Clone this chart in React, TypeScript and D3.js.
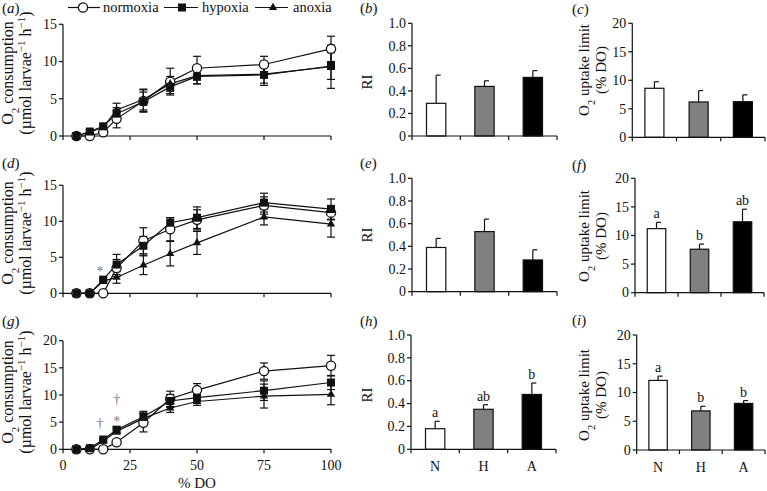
import React from 'react';
import * as d3 from 'd3';

// ---------- data ----------
const DO = [5, 10, 15, 20, 30, 40, 50, 75, 100];
const xTicks = [0, 25, 50, 75, 100];

// panel (a)
const aNorm = [0, 0, 0.5, 2.3, 4.7, 7.3, 9.1, 9.6, 11.7];
const aNormErr = [0, 0, 0.3, 1.2, 1.5, 1.8, 1.6, 1.1, 1.7];
const aHyp = [0, 0.6, 1.3, 3.0, 4.6, 6.6, 8.0, 8.2, 9.4];
const aHypErr = [0, 0.2, 0.3, 0.8, 1.3, 0.9, 1.0, 1.4, 1.8];
const aAno = [0, 0.5, 1.2, 3.5, 4.9, 7.0, 8.1, 8.3, 9.3];
const aAnoErr = [0, 0.2, 0.3, 0.9, 1.4, 1.0, 1.1, 1.2, 2.9];

// panel (d)
const dNorm = [0, 0, 0, 3.5, 7.3, 8.9, 10.2, 12.2, 11.2];
const dNormErr = [0, 0, 0, 1.2, 1.8, 1.6, 1.4, 1.2, 1.0];
const dHyp = [0, 0, 1.9, 4.0, 6.6, 9.8, 10.5, 12.6, 11.7];
const dHypErr = [0, 0, 0.3, 1.4, 1.3, 0.7, 1.5, 1.3, 1.4];
const dAno = [0, 0, 1.7, 2.2, 3.9, 5.5, 7.0, 10.6, 9.6];
const dAnoErr = [0, 0, 0.3, 0.8, 1.3, 1.7, 1.6, 1.1, 1.8];

// panel (g)
const gNorm = [0, 0, 0, 1.3, 4.9, 9.3, 10.9, 14.4, 15.4];
const gNormErr = [0, 0, 0, 0.3, 1.7, 1.4, 1.2, 1.5, 1.9];
const gHyp = [0, 0.2, 1.8, 3.6, 6.0, 8.9, 9.5, 10.8, 12.3];
const gHypErr = [0, 0.1, 0.3, 0.6, 1.0, 1.2, 1.0, 1.8, 1.3];
const gAno = [0, 0, 1.5, 3.3, 5.7, 7.6, 8.8, 9.8, 10.1];
const gAnoErr = [0, 0, 0.3, 0.5, 1.0, 0.8, 0.7, 2.2, 1.9];

// bar panels
const groups = ['N', 'H', 'A'];
const barFills = ['#ffffff', '#808080', '#000000'];
const riB = [0.29, 0.44, 0.52];
const riBErr = [0.25, 0.05, 0.06];
const riE = [0.39, 0.53, 0.28];
const riEErr = [0.08, 0.11, 0.09];
const riH = [0.18, 0.35, 0.48];
const riHErr = [0.065, 0.04, 0.1];
const riHLetters = ['a', 'ab', 'b'];
const limC = [8.6, 6.2, 6.25];
const limCErr = [1.15, 2.0, 1.2];
const limF = [11.2, 7.6, 12.4];
const limFErr = [1.1, 0.9, 2.2];
const limFLetters = ['a', 'b', 'ab'];
const limI = [12.1, 6.8, 8.1];
const limIErr = [0.75, 0.8, 0.5];
const limILetters = ['a', 'b', 'b'];

const riTicks = [0, 0.2, 0.4, 0.6, 0.8, 1.0];
const limTicks = [0, 5, 10, 15, 20];

const FONT = '"Liberation Serif", "Times New Roman", serif';
const INK = '#111';
const GRAY = '#7a7a7a';

// ---------- helpers ----------
function PanelLabel({ x, y, letter }: { x: number; y: number; letter: string }) {
  return (
    <text x={x} y={y} fontSize={15} fontFamily={FONT} fill={INK}>
      (<tspan fontStyle="italic">{letter}</tspan>)
    </text>
  );
}

function Marker({ kind, x, y }: { kind: string; x: number; y: number }) {
  if (kind === 'circle')
    return <circle cx={x} cy={y} r={4.6} fill="#fff" stroke={INK} strokeWidth={1.3} />;
  if (kind === 'square')
    return <rect x={x - 4} y={y - 4} width={8} height={8} fill={INK} />;
  const tri = d3.symbol().type(d3.symbolTriangle).size(30)();
  return <path d={tri || ''} transform={`translate(${x},${y})`} fill={INK} />;
}

function YAxis({ x, y, ticks, fmt }: { x: number; y: d3.ScaleLinear<number, number>; ticks: number[]; fmt: (v: number) => string }) {
  const [r0, r1] = y.range();
  return (
    <g>
      <line x1={x} x2={x} y1={r0} y2={r1} stroke={INK} strokeWidth={1.2} />
      {ticks.map((t) => (
        <g key={t}>
          <line x1={x - 4} x2={x} y1={y(t)} y2={y(t)} stroke={INK} strokeWidth={1.2} />
          <text x={x - 6} y={y(t)} dy="0.34em" textAnchor="end" fontSize={14} fontFamily={FONT} fill={INK}>
            {fmt(t)}
          </text>
        </g>
      ))}
    </g>
  );
}

type Series = { vals: number[]; errs: number[]; kind: string };

function LinePanel({ yScale, ticks, series, showXLabels, y0 }: { yScale: d3.ScaleLinear<number, number>; ticks: number[]; series: Series[]; showXLabels: boolean; y0: number }) {
  const x = d3.scaleLinear().domain([0, 100]).range([63, 331]);
  const line = d3
    .line<number>()
    .x((_, i) => x(DO[i]))
    .y((v) => yScale(v));
  return (
    <g>
      <YAxis x={63} y={yScale} ticks={ticks} fmt={(v) => String(v)} />
      <line x1={63} x2={331} y1={y0} y2={y0} stroke={INK} strokeWidth={1.2} />
      {xTicks.map((t) => (
        <g key={t}>
          <line x1={x(t)} x2={x(t)} y1={y0} y2={y0 + 4} stroke={INK} strokeWidth={1.2} />
          {showXLabels && (
            <text x={x(t)} y={y0 + 21} textAnchor="middle" fontSize={14} fontFamily={FONT} fill={INK}>
              {t}
            </text>
          )}
        </g>
      ))}
      {series.map((s, si) => (
        <g key={'l' + si}>
          <path d={line(s.vals) || ''} fill="none" stroke={INK} strokeWidth={1.2} />
          {s.vals.map((v, i) =>
            s.errs[i] > 0 ? (
              <g key={i} stroke={INK} strokeWidth={1.2}>
                <line x1={x(DO[i])} x2={x(DO[i])} y1={yScale(v - s.errs[i])} y2={yScale(v + s.errs[i])} />
                <line x1={x(DO[i]) - 4} x2={x(DO[i]) + 4} y1={yScale(v - s.errs[i])} y2={yScale(v - s.errs[i])} />
                <line x1={x(DO[i]) - 4} x2={x(DO[i]) + 4} y1={yScale(v + s.errs[i])} y2={yScale(v + s.errs[i])} />
              </g>
            ) : null
          )}
        </g>
      ))}
      {series.map((s, si) => (
        <g key={'m' + si}>
          {s.vals.map((v, i) => (
            <Marker key={i} kind={s.kind} x={x(DO[i])} y={yScale(v)} />
          ))}
        </g>
      ))}
    </g>
  );
}

function BarPanel({ x0, x1, yScale, ticks, fmt, vals, errs, letters, showXLabels, pad }: { x0: number; x1: number; yScale: d3.ScaleLinear<number, number>; ticks: number[]; fmt: (v: number) => string; vals: number[]; errs: number[]; letters?: string[]; showXLabels: boolean; pad: number }) {
  const xb = d3.scaleBand<string>().domain(groups).range([x0, x1]).paddingInner(pad).paddingOuter(pad / 2);
  const step = xb.step();
  const base = yScale(0);
  return (
    <g>
      {vals.map((v, i) => {
        const g = groups[i];
        const bx = xb(g) || 0;
        const cx = bx + xb.bandwidth() / 2;
        const top = yScale(v + errs[i]);
        return (
          <g key={g}>
            <line x1={cx} x2={cx} y1={yScale(v)} y2={top} stroke={INK} strokeWidth={1.2} />
            <line x1={cx} x2={cx + 4.5} y1={top} y2={top} stroke={INK} strokeWidth={1.2} />
            <rect x={bx} y={yScale(v)} width={xb.bandwidth()} height={base - yScale(v)} fill={barFills[i]} stroke={INK} strokeWidth={1.2} />
            {letters && (
              <text x={cx} y={top - 4} textAnchor="middle" fontSize={14} fontFamily={FONT} fill={INK}>
                {letters[i]}
              </text>
            )}
            {showXLabels && (
              <text x={cx} y={base + 22} textAnchor="middle" fontSize={14} fontFamily={FONT} fill={INK}>
                {g}
              </text>
            )}
          </g>
        );
      })}
      <YAxis x={x0} y={yScale} ticks={ticks} fmt={fmt} />
      <line x1={x0} x2={x1} y1={base} y2={base} stroke={INK} strokeWidth={1.2} />
      {[0, 1, 2, 3].map((k) => (
        <line key={k} x1={x0 + k * step} x2={x0 + k * step} y1={base} y2={base + 4} stroke={INK} strokeWidth={1.2} />
      ))}
    </g>
  );
}

function ConsLabel({ cy }: { cy: number }) {
  return (
    <g fontFamily={FONT} fontSize={16} fill={INK}>
      <text transform={`translate(13,${cy}) rotate(-90)`} textAnchor="middle">
        O<tspan baselineShift="sub" fontSize={11}>2</tspan><tspan> consumption</tspan>
      </text>
      <text transform={`translate(31,${cy}) rotate(-90)`} textAnchor="middle">
        (µmol larvae<tspan baselineShift="super" fontSize={11}>−1</tspan><tspan> h</tspan>
        <tspan baselineShift="super" fontSize={11}>−1</tspan><tspan>)</tspan>
      </text>
    </g>
  );
}

function RILabel({ cy }: { cy: number }) {
  return (
    <text transform={`translate(372,${cy}) rotate(-90)`} textAnchor="middle" fontFamily={FONT} fontSize={15} fill={INK}>
      RI
    </text>
  );
}

function LimLabel({ cy }: { cy: number }) {
  return (
    <g fontFamily={FONT} fontSize={15} fill={INK}>
      <text transform={`translate(589,${cy}) rotate(-90)`} textAnchor="middle">
        O<tspan baselineShift="sub" fontSize={10.5}>2</tspan><tspan> uptake limit</tspan>
      </text>
      <text transform={`translate(606,${cy}) rotate(-90)`} textAnchor="middle">
        (% DO)
      </text>
    </g>
  );
}

export default function App() {
  const yA = d3.scaleLinear().domain([0, 15]).range([136, 24.3]);
  const yD = d3.scaleLinear().domain([0, 15]).range([293.3, 185.3]);
  const yG = d3.scaleLinear().domain([0, 20]).range([449.3, 340.7]);

  const yB = d3.scaleLinear().domain([0, 1]).range([136, 23.3]);
  const yE = d3.scaleLinear().domain([0, 1]).range([291.7, 178.3]);
  const yH = d3.scaleLinear().domain([0, 1]).range([449.3, 335]);

  const yC = d3.scaleLinear().domain([0, 20]).range([137.3, 23.3]);
  const yF = d3.scaleLinear().domain([0, 20]).range([292.7, 178.3]);
  const yI = d3.scaleLinear().domain([0, 20]).range([450, 335]);

  const riFmt = (v: number) => (v === 0 ? '0' : v.toFixed(1));
  const limFmt = (v: number) => String(v);

  return (
    <svg width={767} height={491} style={{ position: 'absolute', left: 0, top: 0, background: '#fff' }} fontFamily={FONT}>
      <rect width={767} height={491} fill="#fff" />

      {/* legend */}
      <g fontFamily={FONT} fontSize={14.5} fill={INK}>
        <line x1={68} x2={100} y1={7.5} y2={7.5} stroke={INK} strokeWidth={1.2} />
        <Marker kind="circle" x={83} y={7.5} />
        <text x={103} y={12}>normoxia</text>
        <line x1={164} x2={198} y1={7.5} y2={7.5} stroke={INK} strokeWidth={1.2} />
        <Marker kind="square" x={182} y={7.5} />
        <text x={202} y={12}>hypoxia</text>
        <line x1={255} x2={288} y1={7.5} y2={7.5} stroke={INK} strokeWidth={1.2} />
        <Marker kind="triangle" x={273} y={7.5} />
        <text x={293} y={12}>anoxia</text>
      </g>

      {/* panel labels */}
      <PanelLabel x={2} y={13} letter="a" />
      <PanelLabel x={360} y={13} letter="b" />
      <PanelLabel x={572} y={14} letter="c" />
      <PanelLabel x={2} y={168} letter="d" />
      <PanelLabel x={360} y={168} letter="e" />
      <PanelLabel x={572} y={170} letter="f" />
      <PanelLabel x={2} y={326} letter="g" />
      <PanelLabel x={360} y={326} letter="h" />
      <PanelLabel x={572} y={325} letter="i" />

      {/* axis labels */}
      <ConsLabel cy={73} />
      <ConsLabel cy={233} />
      <ConsLabel cy={392} />
      <RILabel cy={82} />
      <RILabel cy={235} />
      <RILabel cy={395} />
      <LimLabel cy={70} />
      <LimLabel cy={236} />
      <LimLabel cy={395} />

      {/* line panels */}
      <LinePanel
        yScale={yA}
        y0={136}
        ticks={[0, 5, 10, 15]}
        showXLabels={false}
        series={[
          { vals: aNorm, errs: aNormErr, kind: 'circle' },
          { vals: aHyp, errs: aHypErr, kind: 'square' },
          { vals: aAno, errs: aAnoErr, kind: 'triangle' },
        ]}
      />
      <LinePanel
        yScale={yD}
        y0={293.3}
        ticks={[0, 5, 10, 15]}
        showXLabels={false}
        series={[
          { vals: dNorm, errs: dNormErr, kind: 'circle' },
          { vals: dHyp, errs: dHypErr, kind: 'square' },
          { vals: dAno, errs: dAnoErr, kind: 'triangle' },
        ]}
      />
      <LinePanel
        yScale={yG}
        y0={449.3}
        ticks={[0, 5, 10, 15, 20]}
        showXLabels={true}
        series={[
          { vals: gNorm, errs: gNormErr, kind: 'circle' },
          { vals: gHyp, errs: gHypErr, kind: 'square' },
          { vals: gAno, errs: gAnoErr, kind: 'triangle' },
        ]}
      />
      <text x={197} y={488} textAnchor="middle" fontSize={15} fontFamily={FONT} fill={INK}>% DO</text>

      {/* significance marks */}
      <g fontFamily={FONT} fontSize={14} fill={GRAY} textAnchor="middle">
        <text x={100} y={275.5}>*</text>
        <text x={100} y={428}>†</text>
        <text x={116.7} y={404}>†</text>
        <text x={116.7} y={425.5}>*</text>
      </g>

      {/* bar panels: RI */}
      <BarPanel x0={412} x1={557} yScale={yB} ticks={riTicks} fmt={riFmt} vals={riB} errs={riBErr} showXLabels={false} pad={0.6} />
      <BarPanel x0={412} x1={557} yScale={yE} ticks={riTicks} fmt={riFmt} vals={riE} errs={riEErr} showXLabels={false} pad={0.6} />
      <BarPanel x0={411} x1={556} yScale={yH} ticks={riTicks} fmt={riFmt} vals={riH} errs={riHErr} letters={riHLetters} showXLabels={true} pad={0.6} />

      {/* bar panels: uptake limit */}
      <BarPanel x0={632.3} x1={765} yScale={yC} ticks={limTicks} fmt={limFmt} vals={limC} errs={limCErr} showXLabels={false} pad={0.57} />
      <BarPanel x0={635} x1={764} yScale={yF} ticks={limTicks} fmt={limFmt} vals={limF} errs={limFErr} letters={limFLetters} showXLabels={false} pad={0.57} />
      <BarPanel x0={636.7} x1={765} yScale={yI} ticks={limTicks} fmt={limFmt} vals={limI} errs={limIErr} letters={limILetters} showXLabels={true} pad={0.57} />
    </svg>
  );
}
